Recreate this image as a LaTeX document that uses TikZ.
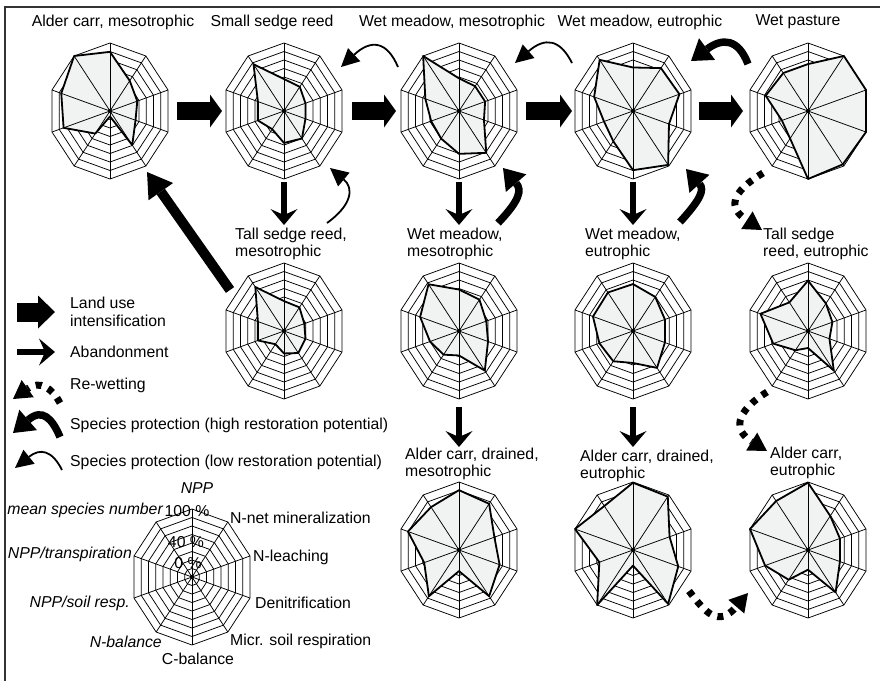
\documentclass[tikz,border=0pt]{standalone}
\usepackage{fontspec}
\setmainfont{Liberation Sans}
\usetikzlibrary{arrows.meta,calc}
\definecolor{polyfill}{RGB}{241,243,243}
\def\RX{61}
\def\RY{68}
\tikzset{
  gridline/.style={line width=0.75pt,black},
  datafill/.style={fill=polyfill},
  dataline/.style={line width=1.8pt,black,line join=round},
  lbl/.style={font=\fontsize{15.8}{17.5}\selectfont,inner sep=0pt,align=left},
  ilbl/.style={font=\fontsize{15.8}{17.5}\selectfont\itshape,inner sep=0pt},
  landuse/.style={line width=18pt,-{Triangle[length=12pt,width=33pt,line width=0pt]}},
  landusebig/.style={line width=19pt,-{Triangle[length=17pt,width=33pt,line width=0pt]}},
  landusediag/.style={line width=10pt,-{Triangle[length=24pt,width=30pt,line width=0pt]}},
  abandon/.style={line width=6.5pt,-{Stealth[length=16pt,width=27pt,inset=6pt,line width=0pt]}},
  sphigh/.style={line width=7.5pt,-{Triangle[length=20pt,width=27pt,line width=0pt]}},
  splow/.style={line width=1.8pt,-{Triangle[length=18pt,width=18pt,line width=0pt]}},
  rewet/.style={line width=7pt,dash pattern=on 6pt off 7pt,-{Triangle[length=18pt,width=21pt,line width=0pt]}}
}
\newcommand{\radarrings}{%
    \foreach \k in {1,...,8}{%
      \draw[gridline] (90:{\k*\RX/8} and {\k*\RY/8})
        \foreach \a in {54,18,-18,-54,-90,-126,-162,-198,-234}{ -- (\a:{\k*\RX/8} and {\k*\RY/8})} -- cycle;
    }}
\newcommand{\radarspokes}{%
    \foreach \a in {90,54,18,-18,-54}{\draw[gridline] (\a:{\RX} and {\RY}) -- ({\a+180}:{\RX} and {\RY});}
    \fill (0,0) circle (2.2);}
\newcommand{\radargrid}[1]{%
  \begin{scope}[shift={(#1)}]
    \radarrings
    \radarspokes
  \end{scope}}
\newcommand{\radarplot}[2]{%
  \begin{scope}[shift={(#1)}]
    \radarrings
    \foreach \v [count=\i from 0] in {#2}{\coordinate (p\i) at ({36*\i-90}:{\v*\RX} and {\v*\RY});}
    \fill[datafill] (p0)--(p1)--(p2)--(p3)--(p4)--(p5)--(p6)--(p7)--(p8)--(p9)--cycle;
    \radarspokes
    \draw[dataline] (p0)--(p1)--(p2)--(p3)--(p4)--(p5)--(p6)--(p7)--(p8)--(p9)--cycle;
  \end{scope}}
\begin{document}
\begin{tikzpicture}[x=1pt,y=-1pt]
\useasboundingbox (0,0) rectangle (880,681);
\fill[white] (0,0) rectangle (880,681);
\draw[line width=1.3pt,black!80] (5,681) -- (5,7) -- (880,7);

% chart centres
\coordinate (c1) at (110,111);
\coordinate (c2) at (284,111);
\coordinate (c3) at (459,111);
\coordinate (c4) at (633,111);
\coordinate (c5) at (808,111);
\coordinate (c6) at (284,331);
\coordinate (c7) at (459,331);
\coordinate (c8) at (633,331);
\coordinate (c9) at (808,331);
\coordinate (c10) at (459,550);
\coordinate (c11) at (633,550);
\coordinate (c12) at (808,550);
\coordinate (cL) at (192,577);

% charts
\radarplot{c1}{0.87,0.55,0.47,0.44,0.62,0.08,0.41,0.80,0.84,1.0}
\radarplot{c2}{0.47,0.44,0.37,0.37,0.50,0.47,0.33,0.45,0.45,0.85}
\radarplot{c3}{0.48,0.45,0.45,0.43,0.76,0.63,0.50,0.48,0.58,1.0}
\radarplot{c4}{0.64,0.78,0.80,0.62,0.98,0.87,0.55,0.50,0.67,0.93}
\radarplot{c5}{0.69,1.0,1.0,1.0,0.97,1.0,0.50,0.45,0.73,0.69}
\radarplot{c6}{0.44,0.43,0.35,0.37,0.40,0.33,0.24,0.45,0.45,0.80}
\radarplot{c7}{0.61,0.57,0.47,0.50,0.72,0.36,0.43,0.50,0.67,0.85}
\radarplot{c8}{0.69,0.62,0.55,0.55,0.67,0.47,0.55,0.58,0.69,0.70}
\radarplot{c9}{0.74,0.50,0.42,0.37,0.72,0.25,0.35,0.60,0.82,0.52}
\radarplot{c10}{0.88,0.84,0.61,0.70,0.84,0.31,0.84,0.60,0.88,0.78}
\radarplot{c11}{0.99,0.97,0.63,0.78,0.98,0.23,1.0,0.58,1.0,0.80}
\radarplot{c12}{0.99,0.62,0.55,0.55,0.77,0.29,0.54,0.74,1.0,0.89}
\radargrid{cL}

% titles
\node[lbl] (t1) at (113,22) {Alder carr, mesotrophic};
\node[lbl] (t2) at (272,22) {Small sedge reed};
\node[lbl] (t3) at (452,22) {Wet meadow, mesotrophic};
\node[lbl] (t4) at (640,22) {Wet meadow, eutrophic};
\node[lbl] (t5) at (798,22) {Wet pasture};
\node[lbl,anchor=west] (t6) at (235,244) {Tall sedge reed,\\mesotrophic};
\node[lbl,anchor=west] (t7) at (407,244) {Wet meadow,\\mesotrophic};
\node[lbl,anchor=west] (t8) at (585,244) {Wet meadow,\\eutrophic};
\node[lbl,anchor=west] (t9) at (763,244) {Tall sedge\\reed, eutrophic};
\node[lbl,anchor=west] (t10) at (405,464) {Alder carr, drained,\\mesotrophic};
\node[lbl,anchor=west] (t11) at (580,466) {Alder carr, drained,\\eutrophic};
\node[lbl,anchor=west] (t12) at (770,463) {Alder carr,\\eutrophic};

% legend chart labels
\node[ilbl] (kNPP) at (197,488) {NPP};
\node[ilbl,anchor=east] (kmsn) at (163,510) {mean species number};
\node[lbl] (k100) at (187,511) {100 \%};
\node[lbl,anchor=west] (knnm) at (230,518) {N-net mineralization};
\node[ilbl,anchor=east] (knt) at (132,554) {NPP/transpiration};
\node[lbl] (k40) at (186,542) {40 \%};
\node[lbl,anchor=west] (knl) at (253,557) {N-leaching};
\node[lbl] (k0) at (188,563) {0 \%};
\node[ilbl,anchor=east] (knsr) at (130,603) {NPP/soil resp.};
\node[lbl,anchor=west] (kden) at (255,603) {Denitrification};
\node[ilbl,anchor=east] (knb) at (162,642) {N-balance};
\node[lbl,anchor=west] (kmsr) at (230,641) {Micr. soil respiration};
\node[lbl] (kcb) at (198,659) {C-balance};

% legend
\coordinate (l1a) at (17,312); \coordinate (l1b) at (55,312);
\coordinate (l2a) at (17,352); \coordinate (l2b) at (55,352);
\coordinate (l3a) at (60,403); \coordinate (l3b) at (13,399);
\coordinate (l4a) at (60,437); \coordinate (l4b) at (13,433);
\coordinate (l5a) at (62,470); \coordinate (l5b) at (15,468);
\draw[landusebig] (l1a) -- (l1b);
\draw[abandon] (l2a) -- (l2b);
\draw[rewet] (l3a) .. controls (52,388) and (40,380) .. (l3b);
\draw[sphigh] (l4a) .. controls (52,418) and (42,408) .. (l4b);
\draw[splow] (l5a) .. controls (52,450) and (40,448) .. (l5b);
\node[lbl,anchor=west] (g1) at (70,312) {Land use\\intensification};
\node[lbl,anchor=west] (g2) at (70,352) {Abandonment};
\node[lbl,anchor=west] (g3) at (70,385) {Re-wetting};
\node[lbl,anchor=west] (g4) at (70,425) {Species protection (high restoration potential)};
\node[lbl,anchor=west] (g5) at (70,462) {Species protection (low restoration potential)};

% land use intensification
\draw[landuse] ($(c1)+(67,0)$) -- ($(c2)+(-62,0)$);
\draw[landuse] ($(c2)+(68,0)$) -- ($(c3)+(-63,0)$);
\draw[landuse] ($(c3)+(67,0)$) -- ($(c4)+(-61,0)$);
\draw[landuse] ($(c4)+(66,0)$) -- ($(c5)+(-65,0)$);
\draw[landusediag] ($(c6)+(-54,-41)$) -- ($(c1)+(37,61)$);

% abandonment
\draw[abandon] ($(c2)+(0,71)$) -- ($(c6)+(0,-106)$);
\draw[abandon] ($(c3)+(0,71)$) -- ($(c7)+(0,-106)$);
\draw[abandon] ($(c4)+(0,71)$) -- ($(c8)+(0,-106)$);
\draw[abandon] ($(c7)+(0,76)$) -- ($(c10)+(0,-103)$);
\draw[abandon] ($(c8)+(0,76)$) -- ($(c11)+(0,-103)$);

% species protection, high
\draw[sphigh] ($(c7)+(39,-108)$) .. controls ($(c7)+(61,-131)$) and ($(c7)+(63,-141)$) .. ($(c3)+(44,57)$);
\draw[sphigh] ($(c8)+(47,-109)$) .. controls ($(c8)+(67,-131)$) and ($(c8)+(72,-141)$) .. ($(c4)+(53,58)$);
\draw[sphigh] ($(c5)+(-60,-47)$) .. controls ($(c5)+(-70,-73)$) and ($(c5)+(-86,-73)$) .. ($(c4)+(58,-50)$);

% species protection, low
\draw[splow] ($(c3)+(-61,-44)$) .. controls ($(c3)+(-72,-70)$) and ($(c3)+(-88,-72)$) .. ($(c2)+(57,-44)$);
\draw[splow] ($(c4)+(-61,-48)$) .. controls ($(c4)+(-73,-72)$) and ($(c4)+(-88,-74)$) .. ($(c3)+(56,-48)$);
\draw[splow] ($(c6)+(43,-108)$) .. controls ($(c6)+(68,-126)$) and ($(c6)+(70,-143)$) .. ($(c2)+(46,57)$);

% re-wetting
\draw[rewet] ($(c5)+(-45,62)$) .. controls ($(c5)+(-78,82)$) and ($(c5)+(-80,97)$) .. ($(c9)+(-46,-101)$);
\draw[rewet] ($(c9)+(-41,61)$) .. controls ($(c9)+(-73,81)$) and ($(c9)+(-75,99)$) .. ($(c12)+(-41,-99)$);
\draw[rewet] ($(c11)+(56,41)$) .. controls ($(c11)+(72,62)$) and ($(c11)+(85,78)$) .. ($(c12)+(-60,43)$);
\end{tikzpicture}
\end{document}
